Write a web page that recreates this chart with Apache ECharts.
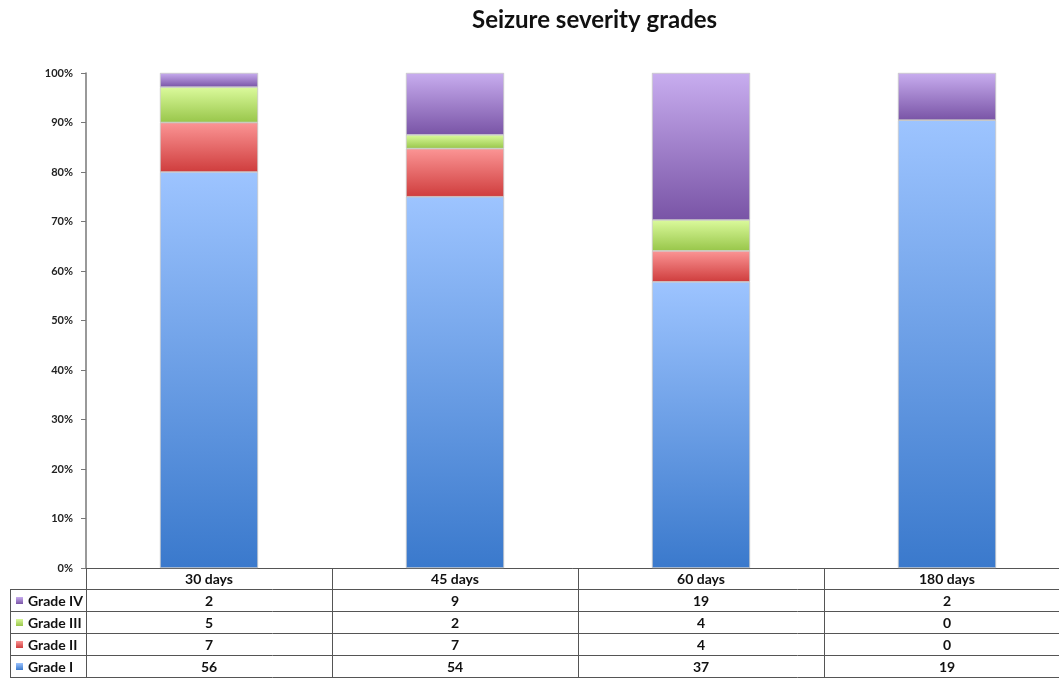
<!DOCTYPE html>
<html>
<head>
<meta charset="utf-8">
<script src="https://cdn.jsdelivr.net/npm/echarts@6/dist/echarts.min.js"></script>
<style>
  html, body { margin: 0; padding: 0; background: #fff; }
  #chart { width: 1059px; height: 678px; }
</style>
</head>
<body>
<div id="chart"></div>
<script>
// Follow-up time points and seizure counts per grade
const categories = ['30 days', '45 days', '60 days', '180 days'];
const gradeNames = ['Grade IV', 'Grade III', 'Grade II', 'Grade I'];
const gradeIV  = [2, 9, 19, 2];
const gradeIII = [5, 2, 4, 0];
const gradeII  = [7, 7, 4, 0];
const gradeI   = [56, 54, 37, 19];
const yTicks = [0, 10, 20, 30, 40, 50, 60, 70, 80, 90, 100];

// Colour pairs (top, bottom) for each grade's vertical gradient
const gradeColors = {
  'Grade I':   ['#9dc4ff', '#3a79cc'],
  'Grade II':  ['#fb9595', '#cf3d3d'],
  'Grade III': ['#dbfa9c', '#98c64a'],
  'Grade IV':  ['#c8adef', '#7954a6']
};
const countsByGrade = {
  'Grade IV': gradeIV, 'Grade III': gradeIII, 'Grade II': gradeII, 'Grade I': gradeI
};

const totals = categories.map((_, i) => gradeI[i] + gradeII[i] + gradeIII[i] + gradeIV[i]);
const pct = arr => arr.map((v, i) => v / totals[i] * 100);

function grad(name) {
  const c = gradeColors[name];
  return new echarts.graphic.LinearGradient(0, 0, 0, 1, [
    { offset: 0, color: c[0] }, { offset: 1, color: c[1] }
  ]);
}

const FONT = 'Lato, "Open Sans", sans-serif';
const stackOrder = ['Grade I', 'Grade II', 'Grade III', 'Grade IV'];

const chart = echarts.init(document.getElementById('chart'), null, { renderer: 'canvas' });

const option = {
  animation: false,
  backgroundColor: '#fff',
  title: {
    text: 'Seizure severity grades',
    left: 467, top: 3,
    textStyle: { fontFamily: FONT, fontWeight: 'bold', fontSize: 24, color: '#111' }
  },
  // plot area runs past the right edge of the canvas
  grid: { left: 86, width: 984, top: 73, bottom: 110, containLabel: false, outerBoundsMode: 'none' },
  xAxis: {
    type: 'category',
    data: categories,
    axisLine: { show: true, lineStyle: { color: '#555', width: 1 } },
    axisTick: { show: false },
    axisLabel: {
      margin: 0,
      interval: 0,
      fontFamily: FONT,
      formatter: (val, idx) => {
        const rows = [val].concat(gradeNames.map(g => String(countsByGrade[g][idx])));
        return rows.map(r => '{c|' + r + '}').join('\n');
      },
      rich: {
        c: { fontFamily: FONT, fontWeight: 'bold', fontSize: 14, color: '#111', lineHeight: 22, align: 'center' }
      }
    }
  },
  yAxis: {
    type: 'value',
    min: 0, max: 100, interval: 10,
    axisLine: { show: true, lineStyle: { color: '#777', width: 1.5 } },
    axisTick: { show: true, length: 5, lineStyle: { color: '#777' } },
    splitLine: { show: false },
    axisLabel: {
      margin: 13,
      fontFamily: FONT, fontWeight: 'bold', fontSize: 11, color: '#222',
      customValues: yTicks,
      formatter: v => v + '%'
    }
  },
  series: stackOrder.map(name => ({
    name,
    type: 'bar',
    stack: 'total',
    barWidth: 98,
    data: pct(countsByGrade[name]),
    itemStyle: { color: grad(name), borderColor: 'rgba(200,200,200,0.8)', borderWidth: 0.6 }
  }))
};

chart.setOption(option);

// Data table grid lines and row headers beneath the plot
function drawTable() {
  const yBase = chart.convertToPixel({ yAxisIndex: 0 }, 0);
  const c0 = chart.convertToPixel({ xAxisIndex: 0 }, 0);
  const c1 = chart.convertToPixel({ xAxisIndex: 0 }, 1);
  const band = c1 - c0;
  const left = c0 - band / 2;
  const rowH = 22;
  const tableLeft = 10;
  const right = left + band * categories.length;
  const lineStyle = { stroke: '#555', lineWidth: 1 };
  const els = [];

  // vertical lines at category boundaries
  for (let i = 0; i <= categories.length; i++) {
    const x = Math.round(left + band * i) + 0.5;
    els.push({ type: 'line', shape: { x1: x, y1: yBase, x2: x, y2: yBase + rowH * 5 }, style: lineStyle, silent: true });
  }
  // outer left edge of row-header column
  els.push({ type: 'line', shape: { x1: tableLeft + 0.5, y1: yBase + rowH, x2: tableLeft + 0.5, y2: yBase + rowH * 5 }, style: lineStyle, silent: true });
  // horizontal lines between rows
  for (let r = 1; r <= 5; r++) {
    const y = Math.round(yBase + rowH * r) - 0.5;
    els.push({ type: 'line', shape: { x1: tableLeft, y1: y, x2: right, y2: y }, style: lineStyle, silent: true });
  }
  // row headers with colour keys
  gradeNames.forEach((g, r) => {
    const cy = yBase + rowH * (r + 1) + rowH / 2;
    els.push({ type: 'rect', shape: { x: 16, y: cy - 4, width: 7, height: 7 }, style: { fill: grad(g) }, silent: true });
    els.push({
      type: 'text', x: 28, y: cy,
      style: { text: g, fontFamily: FONT, fontWeight: 'bold', fontSize: 14, fill: '#111', verticalAlign: 'middle', align: 'left' },
      silent: true
    });
  });
  chart.setOption({ graphic: els });
}
drawTable();
</script>
</body>
</html>
